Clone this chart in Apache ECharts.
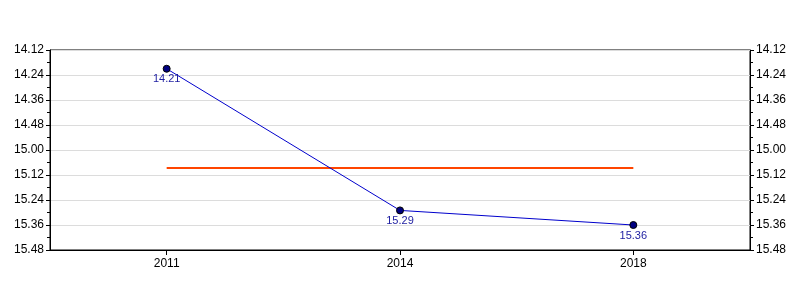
<!DOCTYPE html>
<html><head><meta charset="utf-8">
<script src="https://cdn.jsdelivr.net/npm/echarts@6/dist/echarts.min.js"></script>
<style>html,body{margin:0;padding:0;background:#fff}#c{width:800px;height:300px}</style>
</head><body><div id="c"></div>
<script>
const categories = ['2011', '2014', '2018'];
// times in seconds (mm.ss shown as labels): 14.21, 15.29, 15.36
const timesSec = [861, 929, 936];
const timeLabels = ['14.21', '15.29', '15.36'];
const axisMin = 852, axisMax = 948, axisStep = 12;

const mean = timesSec.reduce((a, b) => a + b, 0) / timesSec.length;
const meanLine = categories.map(() => mean);

function fmt(v) {
  const m = Math.floor(v / 60), s = Math.round(v - m * 60);
  return m + '.' + (s < 10 ? '0' + s : s);
}
const font = 'Liberation Sans, Arial, sans-serif';
const yCommon = {
  type: 'value', inverse: true, min: axisMin, max: axisMax, interval: axisStep,
  axisLine: { show: true, lineStyle: { color: '#000', width: 1 } },
  axisTick: { show: true, length: 4, lineStyle: { color: '#000' } },
  minorTick: { show: true, splitNumber: 2, length: 3, lineStyle: { color: '#000' } },
  axisLabel: { formatter: fmt, color: '#000', fontSize: 12, fontFamily: font, margin: 6 },
};
const chart = echarts.init(document.getElementById('c'), null, { renderer: 'canvas' });
chart.setOption({
  animation: false,
  grid: { left: 50, right: 50, top: 50, bottom: 50, show: true, borderColor: '#000', borderWidth: 1 },
  xAxis: {
    type: 'category', data: categories, boundaryGap: true,
    axisLine: { show: true, lineStyle: { color: '#000' } },
    axisTick: { show: true, alignWithLabel: true, length: 5, lineStyle: { color: '#000' } },
    axisLabel: { color: '#000', fontSize: 12, fontFamily: font, margin: 8 },
    splitLine: { show: false }
  },
  yAxis: [
    Object.assign({}, yCommon, { position: 'left', splitLine: { show: true, lineStyle: { color: '#dcdcdc', width: 1 } } }),
    Object.assign({}, yCommon, { position: 'right', splitLine: { show: false } })
  ],
  series: [
    {
      type: 'line', data: meanLine, yAxisIndex: 0, showSymbol: false, symbol: 'none',
      lineStyle: { color: '#ff4500', width: 2 }, silent: true, z: 1
    },
    {
      type: 'line', data: timesSec, yAxisIndex: 0, symbol: 'circle', symbolSize: 7,
      itemStyle: { color: '#000080', borderColor: '#000', borderWidth: 1 },
      lineStyle: { color: '#0000cc', width: 1 },
      label: {
        show: true, position: 'bottom', distance: 1, color: '#1c1ca0', fontSize: 11, fontFamily: font,
        formatter: p => timeLabels[p.dataIndex]
      },
      z: 3
    }
  ]
});
</script></body></html>
